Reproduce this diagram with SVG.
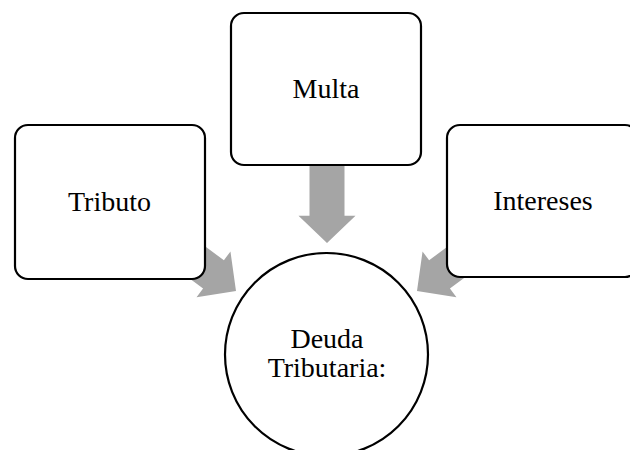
<svg xmlns="http://www.w3.org/2000/svg" width="630" height="450" viewBox="0 0 630 450">
<style>
.box{fill:#fff;stroke:#000;stroke-width:2.2}
.arr{fill:#A5A5A5;stroke:none}
.lbl{font-family:"Liberation Serif","Times New Roman",serif;font-size:28px;fill:#000;text-anchor:middle}
</style>
<defs>
<polygon id="arrowShape" points="-17.5,-80 17.5,-80 17.5,-28 28.5,-28 0,0 -28.5,-28 -17.5,-28"/>
</defs>
<rect width="630" height="450" fill="#fff"/>
<g id="connectors">
<use href="#arrowShape" class="arr" transform="translate(327,243) scale(1,0.975)"/>
<use href="#arrowShape" class="arr" transform="translate(236,291) rotate(-53.5)"/>
<use href="#arrowShape" class="arr" transform="translate(417,291) rotate(53.5)"/>
</g>
<g id="tributo">
<rect class="box" x="15" y="125" width="190" height="154" rx="13"/>
<text class="lbl" x="109.5" y="211">Tributo</text>
</g>
<g id="multa">
<rect class="box" x="231" y="13" width="190" height="152" rx="13"/>
<text class="lbl" x="326" y="98">Multa</text>
</g>
<g id="intereses">
<rect class="box" x="447" y="125" width="191" height="152" rx="13"/>
<text class="lbl" x="543" y="210">Intereses</text>
</g>
<g id="deuda">
<circle class="box" cx="326.5" cy="354.5" r="101.5"/>
<text class="lbl" x="327" y="348">Deuda</text>
<text class="lbl" x="327" y="377">Tributaria:</text>
</g>
</svg>
